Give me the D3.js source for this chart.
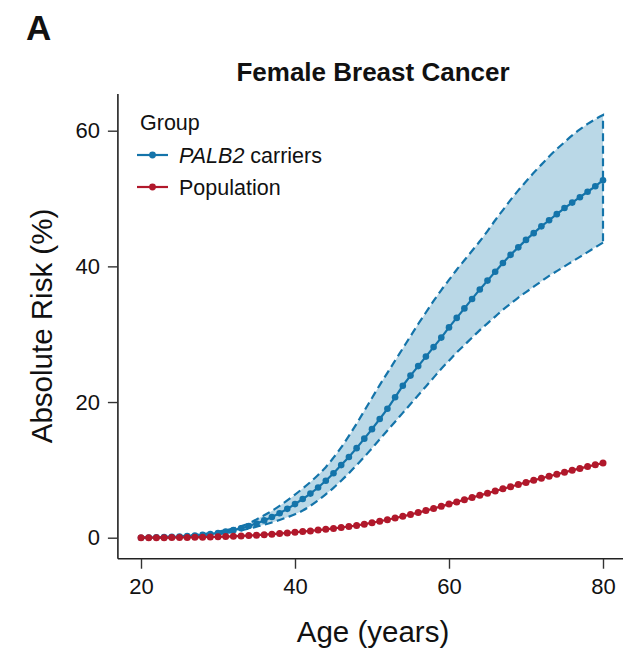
<!DOCTYPE html>
<html>
<head>
<meta charset="utf-8">
<script src="https://cdn.jsdelivr.net/npm/d3@7"></script>
<style>
  html, body { margin: 0; padding: 0; background: #fff; }
  svg { display: block; }
  text { font-family: "Liberation Sans", Arial, sans-serif; }
</style>
</head>
<body>
<svg id="chart" width="623" height="652"></svg>
<script>
// ---------------- data ----------------
const ages = d3.range(20, 81); // 20..80
const carrierRisk = [
  0.00, 0.02, 0.05, 0.08, 0.12, 0.17, 0.23, 0.31, 0.41, 0.54,
  0.70, 0.90, 1.13, 1.40, 1.72, 2.10, 2.55, 3.05, 3.60, 4.25,
  4.95, 5.70, 6.50, 7.40, 8.40, 9.50, 10.7, 11.9, 13.2, 14.6,
  16.0, 17.5, 19.0, 20.7, 22.4, 23.9, 25.3, 26.7, 28.1, 29.5,
  31.0, 32.4, 33.8, 35.2, 36.6, 37.9, 39.2, 40.5, 41.7, 42.8,
  43.9, 44.9, 45.9, 46.8, 47.7, 48.6, 49.4, 50.2, 51.0, 51.8,
  52.7
];
const carrierUpper = [
  0.00, 0.03, 0.07, 0.11, 0.16, 0.22, 0.30, 0.40, 0.53, 0.69,
  0.88, 1.10, 1.37, 1.70, 2.10, 2.70, 3.30, 3.95, 4.70, 5.50,
  6.35, 7.25, 8.20, 9.25, 10.4, 11.8, 13.3, 15.0, 16.8, 18.7,
  20.6, 22.5, 24.3, 26.1, 27.9, 29.7, 31.5, 33.2, 34.9, 36.5,
  38.0, 39.5, 40.9, 42.3, 43.7, 45.2, 46.8, 48.3, 49.8, 51.2,
  52.5, 53.8, 55.0, 56.2, 57.3, 58.3, 59.3, 60.2, 61.0, 61.7,
  62.3
];
const carrierLower = [
  0.00, 0.01, 0.03, 0.05, 0.08, 0.12, 0.17, 0.23, 0.31, 0.41,
  0.53, 0.68, 0.86, 1.08, 1.33, 1.62, 1.92, 2.25, 2.62, 3.02,
  3.45, 4.00, 4.70, 5.50, 6.40, 7.35, 8.40, 9.50, 10.7, 11.9,
  13.2, 14.5, 15.8, 17.1, 18.4, 19.7, 21.0, 22.3, 23.6, 24.9,
  26.1, 27.3, 28.4, 29.5, 30.6, 31.6, 32.6, 33.6, 34.5, 35.4,
  36.2, 37.0, 37.8, 38.6, 39.3, 40.0, 40.7, 41.4, 42.1, 42.8,
  43.5
];
const populationRisk = [
  0.00, 0.00, 0.01, 0.01, 0.02, 0.03, 0.04, 0.06, 0.08, 0.10,
  0.13, 0.17, 0.21, 0.26, 0.31, 0.37, 0.44, 0.52, 0.61, 0.70,
  0.80, 0.90, 1.00, 1.12, 1.24, 1.37, 1.50, 1.65, 1.80, 2.00,
  2.20, 2.42, 2.65, 2.90, 3.15, 3.42, 3.70, 4.00, 4.30, 4.62,
  4.95, 5.28, 5.60, 5.92, 6.24, 6.56, 6.88, 7.20, 7.52, 7.84,
  8.15, 8.46, 8.76, 9.06, 9.35, 9.64, 9.93, 10.21, 10.48, 10.75,
  11.00
];
const xTicks = [20, 40, 60, 80];
const yTicks = [0, 20, 40, 60];
const groups = ["PALB2 carriers", "Population"];

// ---------------- styles ----------------
const BLUE = "#1474aa";
const BAND = "#bad8e7";
const RED = "#b1182b";

const svg = d3.select("#chart");
const x = d3.scaleLinear().domain([20, 80]).range([141, 603]);
const y = d3.scaleLinear().domain([0, 60]).range([537.7, 130.7]);

// panel limits (ggplot-style expansion)
const xPanel = [x(17), 623];
const yPanel = [y(-3.1), y(65.4)];

const carrier = ages.map((a, i) => ({ age: a, v: carrierRisk[i], lo: carrierLower[i], hi: carrierUpper[i] }));
const pop = ages.map((a, i) => ({ age: a, v: populationRisk[i] }));

// ribbon
svg.append("path")
  .datum(carrier)
  .attr("d", d3.area().curve(d3.curveMonotoneX).x(d => x(d.age)).y0(d => y(d.lo)).y1(d => y(d.hi)))
  .attr("fill", BAND);

// dashed outline: upper, right edge, lower
const upperLine = d3.line().curve(d3.curveMonotoneX).x(d => x(d.age)).y(d => y(d.hi));
const lowerLine = d3.line().curve(d3.curveMonotoneX).x(d => x(d.age)).y(d => y(d.lo));
const last = carrier[carrier.length - 1];
svg.append("path")
  .attr("d", upperLine(carrier) + `L${x(last.age)},${y(last.lo)}`)
  .attr("fill", "none").attr("stroke", BLUE).attr("stroke-width", 2.2)
  .attr("stroke-dasharray", "8,4.5");
svg.append("path")
  .attr("d", lowerLine(carrier))
  .attr("fill", "none").attr("stroke", BLUE).attr("stroke-width", 2.2)
  .attr("stroke-dasharray", "8,4.5");

// carrier line + points
const line = d3.line().x(d => x(d.age)).y(d => y(d.v));
svg.append("path").datum(carrier).attr("d", line)
  .attr("fill", "none").attr("stroke", BLUE).attr("stroke-width", 2.2);
svg.append("g").selectAll("circle").data(carrier).join("circle")
  .attr("cx", d => x(d.age)).attr("cy", d => y(d.v)).attr("r", 3.3).attr("fill", BLUE);

// population line + points
svg.append("path").datum(pop).attr("d", line)
  .attr("fill", "none").attr("stroke", RED).attr("stroke-width", 2.2);
svg.append("g").selectAll("circle").data(pop).join("circle")
  .attr("cx", d => x(d.age)).attr("cy", d => y(d.v)).attr("r", 3.5).attr("fill", RED);

// axes
const xAxis = svg.append("g").attr("transform", `translate(0,${yPanel[0]})`)
  .call(d3.axisBottom(x).tickValues(xTicks).tickSize(10).tickPadding(7));
const yAxis = svg.append("g").attr("transform", `translate(${xPanel[0]},0)`)
  .call(d3.axisLeft(y).tickValues(yTicks).tickSize(10).tickPadding(8));
xAxis.select(".domain").attr("d", `M${xPanel[0]},0H${xPanel[1]}`);
yAxis.select(".domain").attr("d", `M0,${yPanel[0]}V${yPanel[1]}`);
[xAxis, yAxis].forEach(g => {
  g.select(".domain").attr("stroke", "#222").attr("stroke-width", 1.6);
  g.selectAll(".tick line").attr("stroke", "#333").attr("stroke-width", 1.4);
  g.selectAll(".tick text").attr("fill", "#111")
    .style("font-size", "22px").style("font-family", "'Liberation Sans', Arial, sans-serif");
});
xAxis.selectAll(".tick text").attr("dy", "0.85em");

// axis titles
svg.append("text").attr("x", 373).attr("y", 642).attr("text-anchor", "middle")
  .style("font-size", "29.5px").attr("fill", "#111").text("Age (years)");
svg.append("text").attr("transform", "translate(52,326) rotate(-90)").attr("text-anchor", "middle")
  .style("font-size", "29.5px").attr("fill", "#111").text("Absolute Risk (%)");

// title & panel letter
svg.append("text").attr("x", 373).attr("y", 81).attr("text-anchor", "middle")
  .style("font-size", "26px").style("font-weight", "bold").attr("fill", "#111").text("Female Breast Cancer");
svg.append("text").attr("x", 26).attr("y", 40)
  .style("font-size", "35px").style("font-weight", "bold").attr("fill", "#111").text("A");

// legend
const leg = svg.append("g");
leg.append("text").attr("x", 140).attr("y", 130).style("font-size", "21.5px").attr("fill", "#111").text("Group");
const legColors = [BLUE, RED];
groups.forEach((g, i) => {
  const ly = 155 + i * 32;
  leg.append("line").attr("x1", 137).attr("x2", 168).attr("y1", ly).attr("y2", ly)
    .attr("stroke", legColors[i]).attr("stroke-width", 2.2);
  leg.append("circle").attr("cx", 152.5).attr("cy", ly).attr("r", 3.4).attr("fill", legColors[i]);
  const t = leg.append("text").attr("x", 179).attr("y", ly + 8).style("font-size", "21.5px").attr("fill", "#111");
  if (g.startsWith("PALB2")) {
    t.append("tspan").style("font-style", "italic").text("PALB2");
    t.append("tspan").text(g.slice(5));
  } else {
    t.text(g);
  }
});
</script>
</body>
</html>
